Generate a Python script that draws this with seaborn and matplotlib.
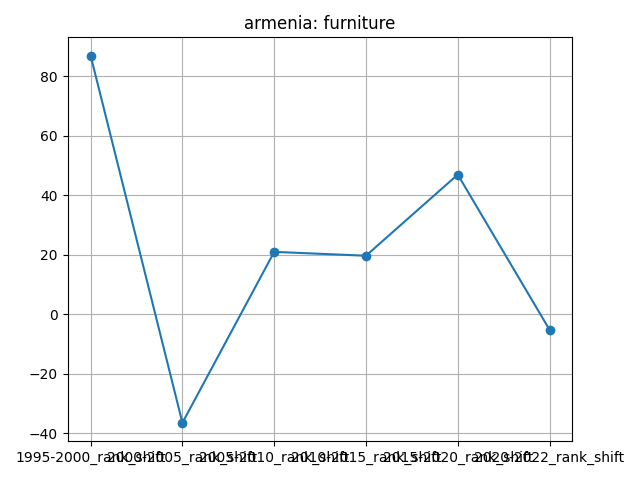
import matplotlib
matplotlib.use("Agg")
import matplotlib.pyplot as plt
import seaborn as sns
import pandas as pd

periods = ["1995-2000_rank_shift", "2000-2005_rank_shift", "2005-2010_rank_shift",
           "2010-2015_rank_shift", "2015-2020_rank_shift", "2020-2022_rank_shift"]
rank_shift = [87, -36.5, 21, 19.7, 47, -5.2]

df = pd.DataFrame({"period": periods, "shift": rank_shift})

fig, ax = plt.subplots(figsize=(6.4, 4.8), dpi=100)
sns.lineplot(data=df, x="period", y="shift", marker="o", markeredgewidth=0,
             markersize=7, color="#1f77b4", ax=ax, sort=False)
ax.set_title("armenia: furniture")
ax.set_xlabel("")
ax.set_ylabel("")
ax.grid(True, color="#b0b0b0")
plt.tight_layout()
fig.savefig("out.png")
